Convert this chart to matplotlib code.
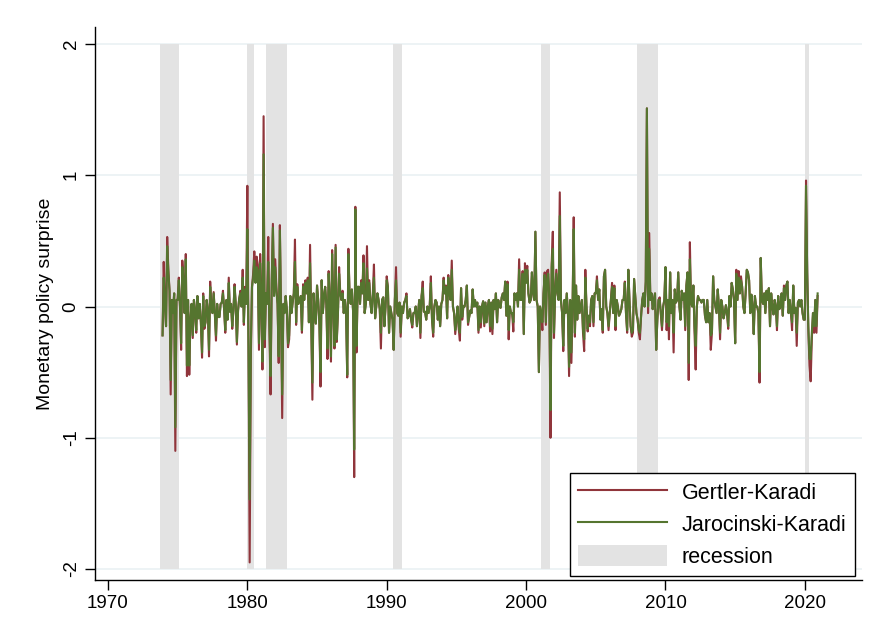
import numpy as np
import matplotlib
matplotlib.use("Agg")
import matplotlib.pyplot as plt
from matplotlib.patches import Patch
from matplotlib.lines import Line2D
plt.rcParams["font.family"] = ["Liberation Sans", "DejaVu Sans"]

# monthly surprises, Dec 1973 - Dec 2020
gk_1970s = [-0.22,
    0.34, 0.02, -0.15, 0.53, 0.28, 0.12, -0.67, 0.05, -0.05, 0.10, -1.10, 0.05,
    0.05, 0.22, 0.0, -0.33, 0.35, 0.2, -0.05, 0.40, -0.53, 0.05, -0.52, -0.1,
    0.02, -0.24, 0.05, -0.03, -0.2, 0.08, -0.09, 0.02, -0.12, -0.39, 0.1, -0.17,
    -0.12, 0.05, -0.03, -0.38, 0.19, 0.0, -0.05, 0.11, -0.05, -0.26, 0.02, -0.08,
    -0.08, 0.02, 0.03, 0.12, -0.02, -0.2, 0.05, -0.1, 0.22, -0.04, 0.02, -0.17,
    -0.03, 0.17, 0.02, -0.29, -0.03, 0.06, 0.12, 0.0, 0.28, -0.14, 0.15, 0.02]
gk_1980s = [
    0.92, -0.30, -1.95, -0.40, 0.15, 0.25, 0.42, 0.20, 0.38, 0.32, -0.33, 0.40,
    0.05, -0.48, 1.45, -0.31, 0.10, 0.02, 0.53, -0.17, -0.67, 0.20, 0.63, 0.10,
    0.36, 0.15, 0.02, -0.43, 0.62, -0.02, -0.85, 0.02, -0.05, 0.08, -0.02, -0.31,
    -0.25, 0.08, -0.05, 0.03, 0.10, 0.51, -0.14, 0.17, 0.02, 0.05, 0.08, -0.20,
    0.17, 0.05, 0.20, 0.10, 0.22, -0.12, 0.47, -0.12, -0.71, 0.10, -0.04, -0.13,
    0.16, 0.05, -0.12, -0.61, 0.20, -0.05, 0.08, 0.15, 0.02, -0.40, 0.27, 0.05,
    -0.42, 0.43, 0.02, -0.32, 0.47, -0.27, -0.05, 0.30, 0.10, 0.05, 0.12, -0.05,
    0.05, -0.05, -0.54, 0.44, 0.10, 0.02, 0.13, -0.03, -1.30, 0.76, -0.35, 0.15,
    0.15, 0.02, 0.20, 0.10, 0.39, -0.05, 0.02, 0.46, 0.05, 0.20, 0.02, -0.05,
    0.09, 0.32, -0.09, 0.0, 0.10, 0.05, -0.02, -0.32, 0.05, 0.07, -0.15, 0.0]
gk_1990s = [
    0.23, 0.15, -0.20, 0.0, -0.05, -0.10, -0.33, 0.05, 0.30, -0.05, -0.07, 0.03,
    -0.23, 0.0, -0.05, 0.03, 0.05, 0.10, -0.09, -0.07, -0.02, -0.10, -0.16, -0.05,
    -0.05, 0.0, -0.15, -0.05, 0.05, -0.24, 0.08, 0.19, -0.04, -0.04, -0.10, 0.0,
    -0.05, 0.0, 0.23, -0.10, -0.23, 0.0, 0.05, 0.03, -0.10, 0.0, -0.15, 0.02,
    0.05, 0.22, 0.10, 0.16, -0.09, 0.24, 0.10, 0.05, 0.35, 0.0, -0.05, -0.21,
    -0.10, 0.0, -0.17, -0.26, 0.14, -0.10, 0.0, 0.0, 0.05, 0.16, -0.14, -0.08,
    -0.03, -0.05, 0.13, 0.0, 0.05, 0.0, 0.03, -0.20, 0.0, -0.16, 0.0, 0.04,
    -0.15, 0.03, -0.12, 0.0, 0.05, -0.19, 0.03, -0.21, 0.05, -0.02, 0.10, -0.12,
    0.05, 0.0, -0.01, 0.07, 0.10, 0.05, 0.19, -0.07, 0.19, -0.25, 0.0, -0.05,
    -0.05, -0.19, 0.10, 0.05, 0.10, 0.0, 0.36, 0.05, 0.05, 0.27, -0.21, 0.33]
gk_2000s = [
    0.20, 0.31, 0.10, 0.03, 0.05, 0.26, 0.10, 0.05, 0.57, 0.05, 0.0, -0.50,
    0.0, -0.05, -0.18, 0.10, 0.26, -0.14, 0.27, 0.28, 0.05, -1.00, 0.33, 0.57,
    -0.24, 0.10, 0.28, 0.10, 0.05, 0.87, 0.05, -0.05, -0.34, 0.05, -0.05, 0.10,
    -0.04, -0.53, 0.05, -0.43, 0.0, 0.68, -0.23, 0.16, -0.10, 0.08, -0.05, 0.0,
    0.05, -0.20, -0.34, 0.28, 0.0, -0.19, -0.07, -0.15, 0.05, 0.08, -0.15, 0.10,
    0.10, 0.23, 0.05, 0.13, -0.10, -0.02, -0.20, 0.23, 0.28, 0.0, -0.05, -0.18,
    -0.05, 0.05, 0.18, -0.05, 0.16, -0.18, 0.05, 0.0, -0.07, -0.05, -0.02, 0.05,
    0.05, 0.19, -0.05, -0.20, 0.28, 0.05, -0.15, -0.23, -0.20, 0.21, 0.08, -0.05,
    -0.10, -0.20, -0.25, -0.07, 0.05, 0.10, 0.0, 0.19, 1.51, -0.05, 0.56, 0.05,
    0.10, -0.02, 0.05, 0.10, -0.33, -0.10, 0.05, 0.07, -0.05, -0.18, 0.0, 0.05]
gk_2010s = [
    0.30, -0.18, 0.05, -0.25, 0.26, -0.05, 0.05, -0.35, 0.13, 0.03, 0.05, 0.26,
    0.0, -0.10, 0.12, 0.05, 0.10, -0.18, 0.16, 0.26, -0.56, 0.49, 0.03, 0.0,
    0.16, -0.20, -0.48, 0.0, 0.08, 0.05, 0.05, 0.03, 0.05, 0.05, -0.07, -0.12,
    0.05, -0.12, -0.05, -0.33, -0.20, 0.23, 0.05, 0.0, -0.05, 0.13, 0.0, -0.25,
    0.05, 0.0, -0.09, -0.05, 0.01, -0.05, -0.17, 0.08, 0.0, 0.18, 0.13, 0.05,
    -0.28, 0.28, 0.05, 0.27, 0.10, 0.23, 0.15, 0.0, -0.05, 0.10, 0.28, 0.26,
    0.20, -0.05, 0.09, 0.0, -0.21, 0.08, 0.0, 0.0, -0.05, -0.58, 0.37, 0.05,
    0.02, 0.10, -0.05, 0.12, 0.05, 0.14, -0.15, 0.10, 0.0, -0.06, 0.05, 0.0,
    -0.18, 0.08, -0.02, 0.0, 0.10, -0.07, 0.16, 0.05, 0.16, 0.19, -0.05, 0.05,
    -0.05, -0.18, 0.16, -0.05, -0.01, -0.30, 0.03, 0.05, 0.0, 0.05, -0.05, -0.10]
gk_2020 = [-0.10, 0.96, 0.26, -0.18, -0.45, -0.57, -0.25, -0.05, -0.20, 0.05, -0.20, 0.08]

jk_1970s = [-0.22,
    0.22, 0.02, -0.15, 0.46, 0.26, 0.12, -0.56, 0.05, -0.05, 0.10, -0.92, 0.05,
    0.05, 0.20, 0.0, -0.28, 0.30, 0.2, -0.05, 0.36, -0.45, 0.05, -0.45, -0.1,
    0.02, -0.22, 0.05, -0.03, -0.18, 0.08, -0.09, 0.02, -0.12, -0.35, 0.08, -0.15,
    -0.12, 0.05, -0.03, -0.33, 0.15, 0.0, -0.05, 0.1, -0.05, -0.22, 0.02, -0.08,
    -0.08, 0.02, 0.03, 0.1, -0.02, -0.18, 0.05, -0.1, 0.18, -0.04, 0.02, -0.15,
    -0.03, 0.15, 0.02, -0.27, -0.03, 0.06, 0.1, 0.0, 0.22, -0.12, 0.13, 0.02]
jk_1980s = [
    0.59, -0.30, -1.47, -0.30, 0.15, 0.22, 0.35, 0.18, 0.30, 0.28, -0.28, 0.33,
    0.05, -0.42, 1.16, -0.25, 0.10, 0.02, 0.34, -0.15, -0.53, 0.18, 0.60, 0.08,
    0.30, 0.12, 0.02, -0.38, 0.58, -0.02, -0.67, 0.02, -0.05, 0.08, -0.02, -0.28,
    -0.22, 0.08, -0.05, 0.03, 0.10, 0.34, -0.12, 0.15, 0.02, 0.05, 0.08, -0.18,
    0.15, 0.05, 0.18, 0.10, 0.20, -0.12, 0.33, -0.12, -0.58, 0.10, -0.04, -0.13,
    0.16, 0.05, -0.12, -0.50, 0.20, -0.05, 0.08, 0.15, 0.02, -0.32, 0.25, 0.05,
    -0.38, 0.40, 0.02, -0.30, 0.45, -0.25, -0.05, 0.25, 0.10, 0.05, 0.10, -0.05,
    0.05, -0.05, -0.52, 0.40, 0.10, 0.02, 0.13, -0.03, -1.09, 0.74, -0.30, 0.15,
    0.15, 0.02, 0.18, 0.10, 0.33, -0.05, 0.02, 0.29, 0.05, 0.18, 0.02, -0.05,
    0.09, 0.22, -0.09, 0.0, 0.10, 0.05, -0.02, -0.20, 0.05, 0.07, -0.15, 0.0]
jk_1990s = [
    0.20, 0.15, -0.20, 0.0, -0.05, -0.10, -0.33, 0.05, 0.20, -0.05, -0.07, 0.03,
    -0.20, 0.0, -0.05, 0.03, 0.05, 0.08, -0.09, -0.07, -0.02, -0.10, -0.14, -0.05,
    -0.05, 0.0, -0.15, -0.05, 0.05, -0.20, 0.08, 0.14, -0.04, -0.04, -0.10, 0.0,
    -0.05, 0.0, 0.18, -0.10, -0.20, 0.0, 0.05, 0.03, -0.10, 0.0, -0.15, 0.02,
    0.05, 0.20, 0.10, 0.15, -0.09, 0.22, 0.10, 0.05, 0.28, 0.0, -0.05, -0.18,
    -0.10, 0.0, -0.15, -0.20, 0.14, -0.08, 0.0, 0.0, 0.05, 0.16, -0.12, -0.08,
    -0.03, -0.05, 0.13, 0.0, 0.05, 0.0, 0.03, -0.18, 0.0, -0.12, 0.0, 0.04,
    -0.13, 0.03, -0.12, 0.0, 0.05, -0.15, 0.03, -0.17, 0.05, -0.02, 0.10, -0.12,
    0.05, 0.0, -0.01, 0.07, 0.10, 0.05, 0.19, -0.07, 0.17, -0.18, 0.0, -0.05,
    -0.05, -0.12, 0.10, 0.05, 0.10, 0.0, 0.28, 0.05, 0.05, 0.25, -0.21, 0.28]
jk_2000s = [
    0.18, 0.28, 0.10, 0.03, 0.05, 0.26, 0.10, 0.05, 0.57, 0.05, 0.0, -0.50,
    0.0, -0.05, -0.12, 0.10, 0.24, -0.12, 0.20, 0.25, 0.05, -0.79, 0.30, 0.44,
    -0.20, 0.10, 0.25, 0.10, 0.05, 0.69, 0.05, -0.05, -0.30, 0.05, -0.05, 0.10,
    -0.04, -0.46, 0.05, -0.35, 0.0, 0.59, -0.20, 0.16, -0.10, 0.08, -0.05, 0.0,
    0.05, -0.18, -0.25, 0.22, 0.0, -0.17, -0.07, -0.12, 0.05, 0.08, -0.12, 0.10,
    0.10, 0.20, 0.05, 0.13, -0.10, -0.02, -0.18, 0.23, 0.28, 0.0, -0.05, -0.15,
    -0.05, 0.05, 0.15, -0.05, 0.14, -0.15, 0.05, 0.0, -0.07, -0.05, -0.02, 0.05,
    0.05, 0.18, -0.05, -0.18, 0.28, 0.05, -0.15, -0.20, -0.18, 0.21, 0.08, -0.05,
    -0.10, -0.18, -0.20, -0.07, 0.05, 0.10, 0.0, 0.19, 1.51, 0.0, 0.44, 0.05,
    0.10, -0.02, 0.05, 0.10, -0.33, -0.10, 0.05, 0.05, -0.05, -0.15, 0.0, 0.05]
jk_2010s = [
    0.30, -0.12, 0.05, -0.15, 0.26, -0.05, 0.05, -0.20, 0.13, 0.03, 0.05, 0.26,
    0.0, -0.10, 0.12, 0.05, 0.10, -0.15, 0.16, 0.26, -0.43, 0.36, 0.03, 0.0,
    0.16, -0.15, -0.30, 0.0, 0.08, 0.05, 0.05, 0.03, 0.05, 0.05, -0.07, -0.12,
    0.05, -0.12, -0.05, -0.22, -0.20, 0.23, 0.05, 0.0, -0.05, 0.13, 0.0, -0.20,
    0.05, 0.0, -0.09, -0.05, 0.01, -0.05, -0.15, 0.08, 0.0, 0.18, 0.13, 0.05,
    -0.28, 0.25, 0.05, 0.22, 0.10, 0.20, 0.15, 0.0, -0.05, 0.10, 0.28, 0.26,
    0.20, -0.05, 0.09, 0.0, -0.21, 0.08, 0.0, 0.0, -0.05, -0.50, 0.37, 0.05,
    0.02, 0.10, -0.05, 0.12, 0.05, 0.14, -0.15, 0.10, 0.0, -0.06, 0.05, 0.0,
    -0.15, 0.08, -0.02, 0.0, 0.10, -0.07, 0.14, 0.05, 0.16, 0.19, -0.05, 0.05,
    -0.05, -0.12, 0.16, -0.05, -0.01, -0.20, 0.03, 0.05, 0.0, 0.05, -0.05, -0.10]
jk_2020 = [-0.10, 0.92, 0.26, -0.15, -0.40, -0.40, -0.20, -0.05, -0.15, 0.05, -0.15, 0.10]

# NBER recessions (decimal years)
rec_start = [1973.75, 1979.95, 1981.37, 1990.42, 2001.05, 2007.95, 2019.98]
rec_end = [1975.12, 1980.45, 1982.82, 1991.12, 2001.70, 2009.45, 2020.27]

gk = np.array(gk_1970s + gk_1980s + gk_1990s + gk_2000s + gk_2010s + gk_2020)
jk = np.array(jk_1970s + jk_1980s + jk_1990s + jk_2000s + jk_2010s + jk_2020)
t = 1973 + 11 / 12 + np.arange(len(gk)) / 12

C_GK = "#90353B"; C_JK = "#55752F"; C_REC = "#E3E3E3"; C_GRID = "#E8F0F2"

fig = plt.figure(figsize=(8.73, 6.41), dpi=100)
ax = fig.add_axes([95 / 873, 61 / 641, 767 / 873, 553 / 641])

for a, b in zip(rec_start, rec_end):
    ax.fill_between([a, b], -2, 2, color=C_REC, lw=0, zorder=1)
for yv in [-2, -1, 0, 1, 2]:
    ax.axhline(yv, color=C_GRID, lw=1.1, zorder=0)

ax.plot(t, gk, color=C_GK, lw=1.5, zorder=3)
ax.plot(t, jk, color=C_JK, lw=1.5, zorder=4)

ax.set_xlim(1969.07, 2024.1)
ax.set_ylim(-2.084, 2.13)
ax.set_xticks(range(1970, 2021, 10))
ax.set_yticks([-2, -1, 0, 1, 2])
ax.set_yticklabels(["-2", "-1", "0", "1", "2"], rotation=90, va="center")
ax.tick_params(labelsize=13.5, length=7, width=1, direction="out", pad=4)
for s in ["top", "right"]:
    ax.spines[s].set_visible(False)
ax.spines["left"].set_linewidth(1)
ax.spines["bottom"].set_linewidth(1)
ax.set_ylabel("Monetary policy surprise", fontsize=14, labelpad=6)

handles = [Line2D([], [], color=C_GK, lw=1.5), Line2D([], [], color=C_JK, lw=1.5),
           Patch(facecolor=C_REC, edgecolor="none")]
leg = ax.legend(handles, ["Gertler-Karadi", "Jarocinski-Karadi", "recession"],
                loc="lower right", bbox_to_anchor=(0.991, 0.007), borderaxespad=0,
                fontsize=15.5, handlelength=4.1, handleheight=1.1, handletextpad=0.7,
                labelspacing=0.42, borderpad=0.4, fancybox=False, framealpha=1,
                edgecolor="black")
leg.get_frame().set_linewidth(1)

fig.savefig("out.png", dpi=100)
